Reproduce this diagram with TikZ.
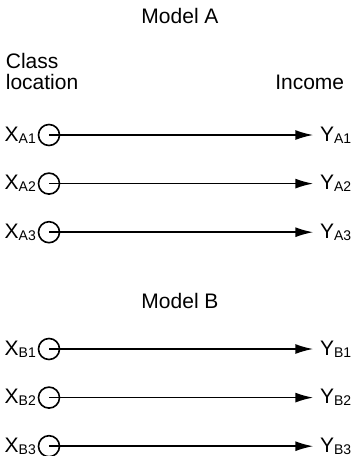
\documentclass[tikz,border=0pt]{standalone}
\usepackage{fontspec}
\setmainfont{Liberation Sans}
\usetikzlibrary{positioning, arrows.meta}
\newcommand{\idx}[1]{\raisebox{-2pt}{\fontsize{14}{14}\selectfont #1}}

\begin{document}
\begin{tikzpicture}[
  x=1pt, y=1pt,
  >={Latex[length=18pt,width=10pt]},
  line width=1.7pt,
  font=\fontsize{21}{21}\selectfont
]
\tikzstyle{src}=[draw, circle, minimum size=21pt, inner sep=0pt, line width=1.6pt]
\tikzstyle{lbl}=[inner sep=0pt]
\useasboundingbox (0,0) rectangle (353,-456);

% ================= HEADINGS =================
\node[lbl, anchor=base] (titleA) at (180,-23) {Model A};
\node[lbl, anchor=base west] (cls) at (5,-68) {Class};
\node[lbl, anchor=base west] (loc) at (5,-89) {location};
\node[lbl, anchor=base east] (inc) at (345,-89) {Income};
\node[lbl, anchor=base] (titleB) at (180,-308) {Model B};

% ================= MODEL A =================
\node[src] (A1) at (49,-135) {};
\node[src] (A2) [below=26pt of A1] {};
\node[src] (A3) [below=26pt of A2] {};

% ================= MODEL B =================
\node[src] (B1) at (49,-349) {};
\node[src] (B2) [below=26pt of B1] {};
\node[src] (B3) [below=26pt of B2] {};

% ===== Labels =====
\foreach \m in {A,B}
  \foreach \i in {1,2,3} {
    \node[lbl] (X\m\i) [left=1pt of \m\i] {X\idx{\m\i}};
    \node[lbl] (Y\m\i) [right=259pt of \m\i] {Y\idx{\m\i}};
  }

% ===== Arrows =====
\foreach \m in {A,B}
  \foreach \i in {1,2,3}
    \draw[->, shorten >=6pt] (\m\i.center) -- (Y\m\i.west);
\end{tikzpicture}
\end{document}
